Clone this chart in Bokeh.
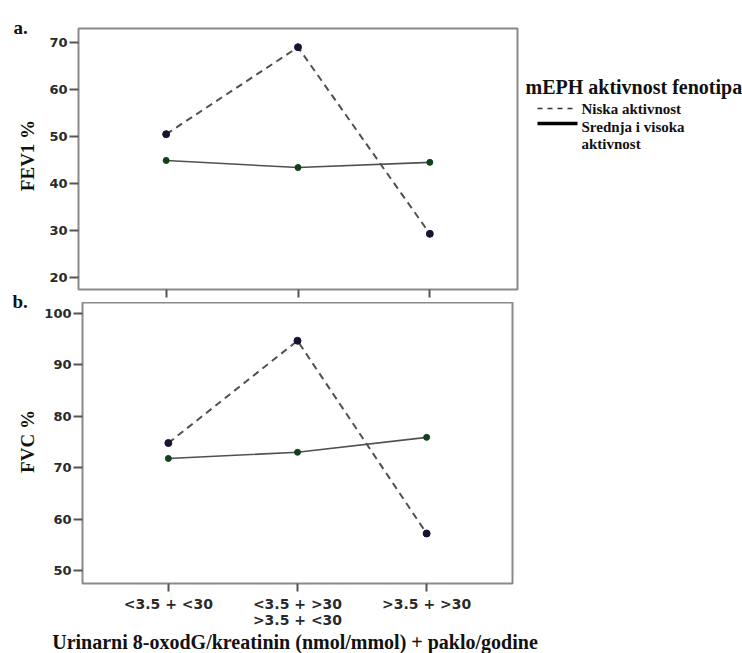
import math
from bokeh.plotting import figure
from bokeh.layouts import column, row
from bokeh.models import FixedTicker, Range1d
from bokeh.core.properties import value
from bokeh.embed import file_html
from bokeh.resources import INLINE

# Groups: urinary 8-oxodG/creatinine + pack-years
groups = ["<3.5 + <30", "<3.5 + >30\n>3.5 + <30", ">3.5 + >30"]
xpos = [1, 2, 3]

# FEV1 % by mEPH phenotype activity
fev1_low = [50.5, 69.0, 29.3]
fev1_midhigh = [44.9, 43.4, 44.5]

# FVC % by mEPH phenotype activity
fvc_low = [74.8, 94.7, 57.2]
fvc_midhigh = [71.8, 73.0, 75.9]

fev1_ticks = [20, 30, 40, 50, 60, 70]
fvc_ticks = [50, 60, 70, 80, 90, 100]

panel_letters = ["a.", "b."]
y_titles = ["FEV1 %", "FVC %"]
legend_title = "mEPH aktivnost fenotipa"
legend_low = "Niska aktivnost"
legend_mid = ["Srednja i visoka", "aktivnost"]
x_title = "Urinarni 8-oxodG/kreatinin (nmol/mmol) +  paklo/godine"

SERIF = "Liberation Serif"
SANS = "DejaVu Sans"
LINE_COL = "#505050"
DOT_LOW = "#141433"
DOT_MID = "#12401a"
INK = "#111111"

W, H = 742, 653
SIDE_W = 36


def panel(y_lo, y_hi, ticks, low, mid, fw, fh, left, right, top, bottom, show_labels):
    p = figure(output_backend="svg", toolbar_location=None,
               frame_width=fw, frame_height=fh,
               min_border_left=left, min_border_right=right,
               min_border_top=top, min_border_bottom=bottom,
               x_range=Range1d(0.335, 3.665), y_range=Range1d(y_lo, y_hi))
    p.background_fill_color = "white"
    p.border_fill_color = "white"
    p.outline_line_color = "#8a8a8a"
    p.outline_line_width = 2
    p.grid.visible = False

    p.line(xpos, low, line_color=LINE_COL, line_width=2, line_dash="7 5")
    p.line(xpos, mid, line_color=LINE_COL, line_width=1.6)
    p.scatter(xpos, low, size=7, fill_color=DOT_LOW, line_color=DOT_LOW)
    p.scatter(xpos, mid, size=6, fill_color=DOT_MID, line_color=DOT_MID)

    ya = p.yaxis[0]
    ya.ticker = FixedTicker(ticks=ticks)
    ya.axis_line_color = None
    ya.major_tick_line_color = "#555555"
    ya.major_tick_line_width = 2
    ya.major_tick_out = 9
    ya.major_tick_in = 0
    ya.minor_tick_line_color = None
    ya.major_label_text_font = SANS
    ya.major_label_text_font_style = "bold"
    ya.major_label_text_font_size = "13px"
    ya.major_label_text_color = "#2a2a2a"
    ya.major_label_standoff = 2

    xa = p.xaxis[0]
    xa.ticker = FixedTicker(ticks=xpos)
    xa.axis_line_color = None
    xa.major_tick_line_color = "#555555"
    xa.major_tick_line_width = 2
    xa.major_tick_out = 8
    xa.major_tick_in = 0
    xa.minor_tick_line_color = None
    if show_labels:
        xa.major_label_overrides = {x: g for x, g in zip(xpos, groups)}
        xa.major_label_text_font = SANS
        xa.major_label_text_font_style = "bold"
        xa.major_label_text_font_size = "14px"
        xa.major_label_text_line_height = 1.05
        xa.major_label_text_color = "#2a2a2a"
        xa.major_label_standoff = 4
        xa.axis_label = x_title
        xa.axis_label_text_font = SERIF
        xa.axis_label_text_font_style = "bold"
        xa.axis_label_text_font_size = "20px"
        xa.axis_label_text_color = INK
        xa.axis_label_standoff = 0
    else:
        xa.major_label_overrides = {x: "" for x in xpos}
        xa.major_label_text_font_size = "0px"
        xa.major_label_standoff = 0
    return p


top = panel(17.45, 72.98, fev1_ticks, fev1_low, fev1_midhigh,
            439, 261, 78 - SIDE_W, 5, 28, 13, False)
bot = panel(47.47, 102.14, fvc_ticks, fvc_low, fvc_midhigh,
            430, 281, 82 - SIDE_W, 230, 0, 70, True)

# Left strip: panel letters and vertical axis titles, in canvas pixels
side = figure(output_backend="svg", toolbar_location=None, width=SIDE_W, height=H,
              x_range=Range1d(0, SIDE_W), y_range=Range1d(H, 0), min_border=0)
side.axis.visible = False
side.grid.visible = False
side.outline_line_color = None
side.text(x=[13, 12], y=[27, 301], text=panel_letters, text_font=value(SERIF),
          text_font_style="bold", text_font_size="19px", text_baseline="alphabetic",
          text_color=INK)
side.text(x=[27, 27], y=[155, 441], text=y_titles, angle=math.pi / 2,
          text_font=value(SERIF), text_font_style="bold", text_font_size="19px",
          text_align="center", text_baseline="middle", text_color=INK)

# Legend strip; its ranges follow the canvas pixels of the row
leg = figure(output_backend="svg", toolbar_location=None, width=220, height=302,
             x_range=Range1d(522, 742), y_range=Range1d(289, 28),
             min_border=0)
leg.axis.visible = False
leg.grid.visible = False
leg.outline_line_color = None
leg.text(x=[525], y=[86], text=[legend_title], text_font=value(SERIF),
         text_font_style="bold", text_font_size="20px", text_baseline="middle",
         text_color=INK)
leg.line(x=[537, 577], y=[108, 108], line_color="#333333", line_width=1.5, line_dash="5 5")
leg.text(x=[581], y=[108], text=[legend_low], text_font=value(SERIF),
         text_font_style="bold", text_font_size="15px", text_baseline="middle",
         text_color=INK)
leg.line(x=[537, 577], y=[123, 123], line_color="#000000", line_width=3.5)
leg.text(x=[581, 581], y=[126, 143], text=legend_mid, text_font=value(SERIF),
         text_font_style="bold", text_font_size="15px", text_baseline="middle",
         text_color=INK)

layout = row(side, column(row(top, leg), bot, spacing=0), spacing=0)

with open("out.html", "w") as f:
    f.write(file_html(layout, INLINE))
